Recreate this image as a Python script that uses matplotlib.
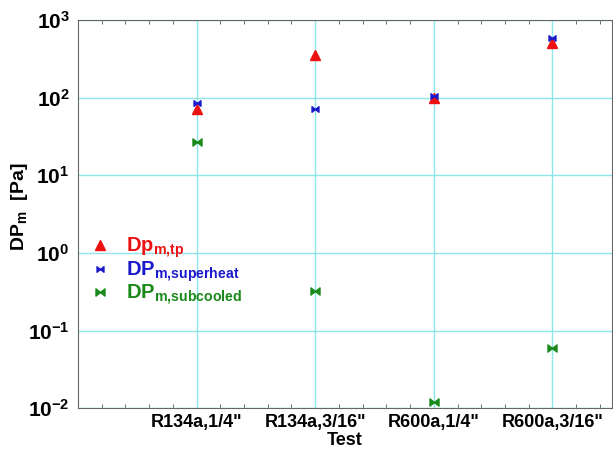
import matplotlib
matplotlib.use('Agg')
import matplotlib.pyplot as plt
import numpy as np
from matplotlib.path import Path

plt.rcParams['font.family'] = 'Liberation Sans'
plt.rcParams['font.weight'] = 'bold'
plt.rcParams['mathtext.fontset'] = 'custom'
plt.rcParams['mathtext.rm'] = 'Liberation Sans:bold'
plt.rcParams['mathtext.bf'] = 'Liberation Sans:bold'
plt.rcParams['mathtext.it'] = 'Liberation Sans:bold'

tests = ['R134a,1/4"', 'R134a,3/16"', 'R600a,1/4"', 'R600a,3/16"']
dp_tp = [72, 356, 98, 510]
dp_superheat = [86, 72, 106, 590]
dp_subcooled = [27, 0.32, 0.012, 0.06]
yticks = [1e-2, 1e-1, 1e0, 1e1, 1e2, 1e3]
ytick_labels = [r'$\mathbf{10^{-2}}$', r'$\mathbf{10^{-1}}$', r'$\mathbf{10^{0}}$',
                r'$\mathbf{10^{1}}$', r'$\mathbf{10^{2}}$', r'$\mathbf{10^{3}}$']

# bowtie marker: two triangles pointing at each other
bowtie = Path([(-1, -0.8), (0, 0), (-1, 0.8), (-1, -0.8), (1, -0.8), (0, 0), (1, 0.8), (1, -0.8)],
              [Path.MOVETO, Path.LINETO, Path.LINETO, Path.CLOSEPOLY,
               Path.MOVETO, Path.LINETO, Path.LINETO, Path.CLOSEPOLY])

fig = plt.figure(figsize=(6.13, 4.57), dpi=100)
ax = fig.add_axes([0.127, 0.107, 0.871, 0.849])

x = np.arange(1, len(tests) + 1)
ax.plot(x, dp_tp, ls='none', marker='^', color='#ee1111', ms=7, label=r'Dp$_{\mathrm{m{,}tp}}$')
ax.plot(x, dp_superheat, ls='none', marker=bowtie, color='#1a1acc', ms=5,
        label=r'DP$_{\mathrm{m{,}superheat}}$')
ax.plot(x, dp_subcooled, ls='none', marker=bowtie, color='#1a8a1a', ms=6.5,
        label=r'DP$_{\mathrm{m{,}subcooled}}$')

ax.set_yscale('log')
ax.set_ylim(1e-2, 1e3)
ax.set_xlim(0, 4.5)
ax.set_yticks(yticks)
ax.set_yticklabels(ytick_labels)
ax.set_xticks(x)
ax.set_xticklabels(tests, fontsize=13, fontweight='bold')
ax.set_xticks(np.arange(0.2, 4.5, 0.2), minor=True)
ax.yaxis.set_minor_locator(matplotlib.ticker.NullLocator())
ax.tick_params(axis='y', labelsize=15, length=0, pad=6)
ax.tick_params(axis='x', which='both', direction='in', top=True, length=3, color='#555555')
ax.tick_params(axis='x', which='major', length=0, pad=4)
ax.grid(True, which='major', color='#8fe6ea', lw=1)
ax.set_axisbelow(True)
for s in ax.spines.values():
    s.set_color('#666666')

ax.set_xlabel('Test', fontsize=13, fontweight='bold', labelpad=1)
ax.set_ylabel(r'DP$_{\mathrm{m}}$  [Pa]', fontsize=14, fontweight='bold', labelpad=4)
ax.yaxis.set_label_coords(-0.09, 0.52)

leg = ax.legend(loc='upper left', bbox_to_anchor=(0.0, 0.475), frameon=False,
                labelcolor='markerfacecolor', prop={'size': 14.5, 'weight': 'bold'},
                handlelength=1.0, handletextpad=0.8, labelspacing=-0.05, borderaxespad=0.2)

fig.savefig('out.png', dpi=100)
